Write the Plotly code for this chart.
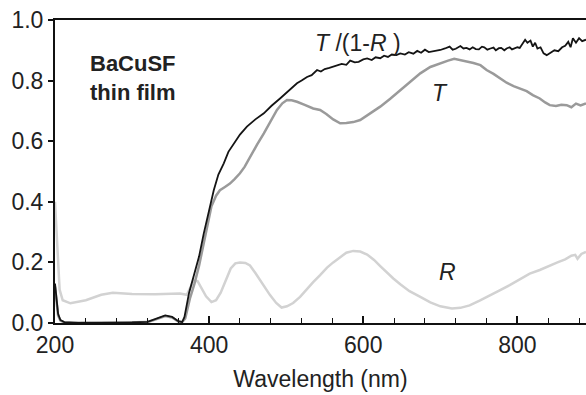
import plotly.graph_objects as go

# Reflectance R
wl_R = [200, 202, 204, 206, 210, 220, 240, 260, 275, 300, 330, 362, 371, 376, 380, 385, 390, 396, 403, 409, 415, 422, 428, 434,
        440, 447, 453, 460, 466, 473, 479, 487, 494, 501, 509, 518, 526, 535, 544, 553, 561, 570, 578, 587, 596, 605, 614, 622,
        630, 639, 648, 660, 674, 687, 700, 715, 726, 738, 751, 764, 777, 790, 803, 816, 829, 842, 852, 862, 870, 875, 878, 883, 889]
R = [0.40, 0.30, 0.18, 0.11, 0.075, 0.065, 0.075, 0.093, 0.1, 0.096, 0.095, 0.097, 0.093, 0.12, 0.14, 0.138, 0.115, 0.088, 0.069, 0.075, 0.1, 0.145, 0.18, 0.197,
     0.2, 0.198, 0.19, 0.165, 0.141, 0.115, 0.092, 0.066, 0.051, 0.055, 0.066, 0.086, 0.11, 0.135, 0.158, 0.183, 0.2, 0.218, 0.232, 0.238, 0.236, 0.226, 0.208, 0.188,
     0.168, 0.147, 0.128, 0.105, 0.086, 0.068, 0.055, 0.048, 0.05, 0.058, 0.074, 0.092, 0.108, 0.125, 0.145, 0.163, 0.175, 0.19, 0.2, 0.21, 0.222, 0.225, 0.212, 0.228, 0.235]

# Transmittance T
wl_T = [200, 202, 204, 207, 212, 260, 300, 320, 330, 343, 352, 360, 365, 369, 375, 381, 387, 393, 398, 403, 409, 414, 420, 427,
        433, 440, 446, 453, 462, 471, 480, 488, 495, 501, 507, 514, 524, 535, 544, 552, 561, 570, 578, 587, 596, 605, 613, 622,
        635, 648, 661, 674, 687, 700, 710, 718, 726, 735, 743, 752, 760, 769, 777, 786, 795, 803, 812, 820, 829, 836, 842, 850,
        857, 864, 870, 876, 882, 889]
T = [0.12, 0.07, 0.025, 0.008, 0.002, 0.0, 0.002, 0.003, 0.011, 0.023, 0.018, 0.005, 0.003, 0.015, 0.08, 0.13, 0.19, 0.26, 0.33, 0.385, 0.42, 0.438, 0.448, 0.46,
     0.475, 0.494, 0.515, 0.548, 0.588, 0.626, 0.665, 0.703, 0.725, 0.736, 0.735, 0.73, 0.72, 0.708, 0.703, 0.69, 0.672, 0.659, 0.66, 0.663, 0.67, 0.685, 0.698, 0.714,
     0.74, 0.769, 0.797, 0.824, 0.845, 0.858, 0.866, 0.872, 0.868, 0.862, 0.858, 0.851, 0.835, 0.822, 0.807, 0.793, 0.782, 0.774, 0.765, 0.752, 0.741, 0.728, 0.719, 0.716,
     0.72, 0.719, 0.712, 0.724, 0.718, 0.725]

# Corrected transmittance T/(1-R)
wl_TR = [200, 202, 204, 207, 212, 230, 260, 300, 320, 330, 343, 352, 360, 365, 368, 374, 380, 387, 393, 400, 406, 412, 419, 425,
         432, 440, 449, 460, 471, 481, 492, 503, 514, 520, 527, 533, 540, 545, 550, 556, 561, 567, 572, 578, 583, 589, 594, 600,
         605, 611, 616, 622, 627, 632, 637, 643, 648, 654, 659, 665, 670, 675, 680, 685, 690, 695, 700, 706, 712, 716, 720, 726,
         730, 734, 738, 742, 746, 750, 754, 757, 761, 765, 769, 772, 776, 779, 783, 786, 790, 793, 797, 800, 803, 806, 808, 810,
         813, 815, 817, 820, 823, 826, 830, 834, 838, 843, 848, 853, 858, 862, 866, 869, 872, 876, 880, 884, 889]
TR = [0.13, 0.08, 0.03, 0.01, 0.003, 0.0, 0.0, 0.002, 0.004, 0.012, 0.025, 0.02, 0.006, 0.003, 0.02, 0.1, 0.152, 0.22, 0.295, 0.37, 0.438, 0.49, 0.527, 0.565,
      0.593, 0.622, 0.648, 0.672, 0.692, 0.717, 0.741, 0.766, 0.791, 0.8, 0.812, 0.818, 0.835, 0.83, 0.838, 0.842, 0.846, 0.85, 0.855, 0.852, 0.866, 0.86, 0.862, 0.87,
      0.873, 0.868, 0.877, 0.874, 0.882, 0.878, 0.886, 0.884, 0.89, 0.886, 0.894, 0.889, 0.898, 0.892, 0.902, 0.894, 0.896, 0.9, 0.901, 0.906, 0.912, 0.902, 0.905, 0.914,
      0.906, 0.908, 0.903, 0.91, 0.904, 0.903, 0.912, 0.91, 0.902, 0.906, 0.909, 0.9, 0.907, 0.908, 0.9, 0.906, 0.91, 0.903, 0.907, 0.91, 0.908, 0.92, 0.928, 0.935,
      0.925, 0.93, 0.932, 0.912, 0.925, 0.906, 0.91, 0.89, 0.884, 0.892, 0.9, 0.897, 0.91, 0.915, 0.928, 0.91, 0.94, 0.925, 0.94, 0.93, 0.935]

FONT = "Liberation Sans, Arial, sans-serif"

fig = go.Figure()
fig.add_trace(go.Scatter(x=wl_R, y=R, mode="lines", line=dict(color="#d2d2d2", width=2.5), showlegend=False))
fig.add_trace(go.Scatter(x=wl_T, y=T, mode="lines", line=dict(color="#9a9a9a", width=2.5), showlegend=False))
fig.add_trace(go.Scatter(x=wl_TR, y=TR, mode="lines", line=dict(color="#141414", width=1.8), showlegend=False))

fig.add_annotation(x=301, y=0.81, text="<b>BaCuSF<br>thin film</b>", showarrow=False,
                   font=dict(family=FONT, size=22, color="#222"), align="left")
fig.add_annotation(x=593, y=0.924, text="<i>T</i> /(1-<i>R</i> )", showarrow=False,
                   font=dict(family=FONT, size=23, color="#222"))
fig.add_annotation(x=700, y=0.759, text="<i>T</i>", showarrow=False,
                   font=dict(family=FONT, size=23, color="#222"))
fig.add_annotation(x=709, y=0.167, text="<i>R</i>", showarrow=False,
                   font=dict(family=FONT, size=23, color="#222"))

fig.update_layout(
    width=586, height=395,
    margin=dict(l=55, r=0, t=20, b=72),
    plot_bgcolor="white", paper_bgcolor="white",
    font=dict(family=FONT, size=23, color="#222"),
    xaxis=dict(range=[200, 889], tick0=200, dtick=200, ticks="inside", ticklen=7, tickwidth=1.5,
               tickcolor="#111", showline=True, linecolor="#111", linewidth=2, mirror=True,
               showgrid=False, zeroline=False,
               minor=dict(dtick=40, tick0=200, ticks="inside", ticklen=5, tickwidth=1.2, tickcolor="#111"),
               title=dict(text="Wavelength (nm)", standoff=14, font=dict(size=23))),
    yaxis=dict(range=[0, 1.0], dtick=0.2, tickformat=".1f", ticks="outside", ticklen=5, tickwidth=1.5,
               tickcolor="#111", showline=True, linecolor="#111", linewidth=2,
               showgrid=False, zeroline=False),
)

fig.write_html("out.html")
